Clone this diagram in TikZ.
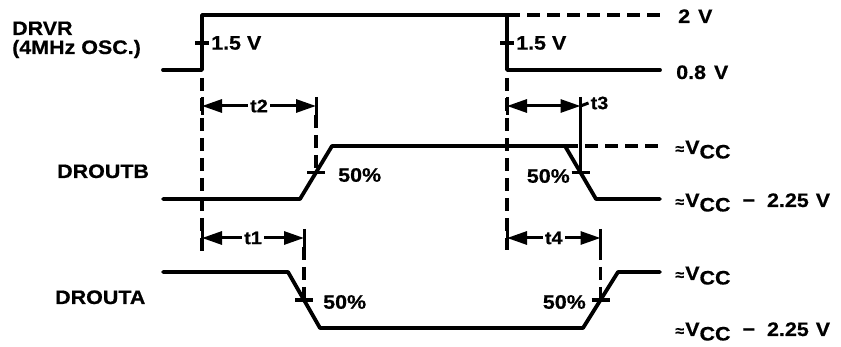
\documentclass[tikz,border=0pt]{standalone}
\usepackage{fontspec}
\setmainfont{Liberation Sans}[FakeStretch=1.1,FakeBold=0.6]
\usetikzlibrary{arrows.meta,calc}
\newcommand\myvcc{{\fontsize{15}{15}\selectfont ≈}\hspace{1pt}V\raisebox{-4.5pt}{CC}}
\begin{document}
\begin{tikzpicture}[x=1pt,y=-1pt,
  sig/.style={line width=3.8pt,line join=round,line cap=round},
  dsh/.style={line width=3.2pt,dash pattern=on 13pt off 7pt},
  lbl/.style={font=\fontsize{19.5}{21}\selectfont\bfseries,inner sep=0pt},
  tlbl/.style={font=\fontsize{18}{19}\selectfont\bfseries,inner sep=2pt},
  dim/.style={line width=3pt,-{Triangle[length=20pt,width=13pt]}},
  dimboth/.style={line width=3pt,{Triangle[length=20pt,width=13pt]}-{Triangle[length=20pt,width=13pt]}},
  bar/.style={line width=3pt},
  tick/.style={line width=3.2pt}]
\useasboundingbox (0,0) rectangle (841,347);
% ---------- DRVR ----------
\coordinate (a0) at (163,70);
\coordinate (a1) at (202,70);
\coordinate (a2) at (202,15);
\coordinate (a3) at (507,15);
\coordinate (a4) at (507,70);
\coordinate (a5) at (660,70);
\coordinate (a6) at (660,15);
\draw[sig] (a0) -- (a1) -- (a2) -- (a3) -- (a4) -- (a5);
\draw[dsh] (a3) -- (a6);
\coordinate (r15) at (202,43);
\coordinate (f15) at (507,43);
\draw[tick] ($(r15)+(-7,0)$) -- ($(r15)+(7,0)$);
\draw[tick] ($(f15)+(-7,0)$) -- ($(f15)+(7,0)$);
\node[lbl,anchor=west] (l15a) at (211,43) {1.5\hspace{6pt}V};
\node[lbl,anchor=west] (l15b) at (516,43) {1.5\hspace{6pt}V};
\node[lbl,anchor=base west] (l2v) at (678,23) {2\hspace{8pt}V};
\node[lbl,anchor=base west] (l08v) at (676,79) {0.8\hspace{8pt}V};
\node[lbl,anchor=base west] (ndrvr) at (12,35) {DRVR};
\node[lbl,anchor=base west] (nosc) at (12,54) {(4MHz OSC.)};
% vertical dashed references
\coordinate (v1t) at (202,78);
\coordinate (v1b) at (202,252);
\coordinate (v2t) at (507,78);
\coordinate (v2b) at (507,250);
\draw[dsh] (v1t) -- (v1b);
\draw[dsh] (v2t) -- (v2b);
% ---------- DROUTB ----------
\coordinate (b0) at (163,199);
\coordinate (b1) at (300,199);
\coordinate (b2) at (332,146);
\coordinate (b3) at (565,146);
\coordinate (b4) at (596,199);
\coordinate (b5) at (660,199);
\coordinate (b6) at (660,146);
\draw[sig] (b0) -- (b1) -- (b2) -- (b3) -- (b4) -- (b5);
\draw[dsh] (b3) -- (b6);
\coordinate (bm1) at ($(b1)!0.5!(b2)$);
\coordinate (bm2) at ($(b3)!0.5!(b4)$);
\draw[tick] ($(bm1)+(-9,0)$) -- ($(bm1)+(9,0)$);
\draw[tick] ($(bm2)+(-9,0)$) -- ($(bm2)+(9,0)$);
\node[lbl,anchor=west] (p50b1) at (338,175) {50\%};
\node[lbl,anchor=east] (p50b2) at (570,176) {50\%};
\node[lbl,anchor=base west] (ndroutb) at (57,178) {DROUTB};
\node[lbl,anchor=base west] (lvccb) at (675,154) {\myvcc};
\node[lbl,anchor=base west] (lvccbm) at (675,207) {\myvcc\hspace{12pt}−\hspace{12pt}2.25\hspace{7pt}V};
% t2
\coordinate (t2L) at (202,106);
\coordinate (t2R) at (bm1 |- t2L);
\node[tlbl,fill=white] (t2) at ($(t2L)!0.5!(t2R)$) {t2};
\draw[dim] (t2.west) -- (t2L);
\draw[dim] (t2.east) -- (t2R);
\draw[bar] ($(t2L)+(0,-9)$) -- ($(t2L)+(0,9)$);
\draw[bar] ($(t2R)+(0,-9)$) -- ($(t2R)+(0,9)$);
\draw[dsh] ($(t2R)+(0,9)$) -- (bm1);
% t3
\coordinate (t3L) at (507,106);
\coordinate (t3R) at (bm2 |- t3L);
\draw[dimboth] (t3L) -- (t3R);
\draw[bar] ($(t3L)+(0,-9)$) -- ($(t3L)+(0,9)$);
\draw[bar] ($(t3R)+(0,-9)$) -- (bm2);
\node[tlbl,anchor=west] (t3) at ($(t3R)+(8,-3)$) {t3};
\draw[bar] (t3R) -- (t3.west);
% ---------- DROUTA ----------
\coordinate (c0) at (163,272);
\coordinate (c1) at (288,272);
\coordinate (c2) at (320,328);
\coordinate (c3) at (583,328);
\coordinate (c4) at (618,272);
\coordinate (c5) at (660,272);
\draw[sig] (c0) -- (c1) -- (c2) -- (c3) -- (c4) -- (c5);
\coordinate (cm1) at ($(c1)!0.5!(c2)$);
\coordinate (cm2) at ($(c3)!0.5!(c4)$);
\draw[tick] ($(cm1)+(-9,0)$) -- ($(cm1)+(9,0)$);
\draw[tick] ($(cm2)+(-9,0)$) -- ($(cm2)+(9,0)$);
\node[lbl,anchor=west] (p50a1) at (323,302) {50\%};
\node[lbl,anchor=east] (p50a2) at (586,302) {50\%};
\node[lbl,anchor=base west] (ndrouta) at (55,304) {DROUTA};
\node[lbl,anchor=base west] (lvcca) at (675,280) {\myvcc};
\node[lbl,anchor=base west] (lvccam) at (675,336) {\myvcc\hspace{12pt}−\hspace{12pt}2.25\hspace{7pt}V};
% t1
\coordinate (t1L) at (202,238);
\coordinate (t1R) at (cm1 |- t1L);
\node[tlbl,fill=white] (t1) at ($(t1L)!0.5!(t1R)$) {t1};
\draw[dim] (t1.west) -- (t1L);
\draw[dim] (t1.east) -- (t1R);
\draw[bar] ($(t1L)+(0,-9)$) -- ($(t1L)+(0,9)$);
\draw[bar] ($(t1R)+(0,-9)$) -- ($(t1R)+(0,9)$);
\draw[dsh] ($(t1R)+(0,9)$) -- (cm1);
% t4
\coordinate (t4L) at (507,238);
\coordinate (t4R) at (cm2 |- t4L);
\node[tlbl,fill=white] (t4) at ($(t4L)!0.5!(t4R)$) {t4};
\draw[dim] (t4.west) -- (t4L);
\draw[dim] (t4.east) -- (t4R);
\draw[bar] ($(t4L)+(0,-9)$) -- ($(t4L)+(0,9)$);
\draw[bar] ($(t4R)+(0,-9)$) -- ($(t4R)+(0,9)$);
\draw[dsh] ($(t4R)+(0,9)$) -- (cm2);
\end{tikzpicture}
\end{document}
